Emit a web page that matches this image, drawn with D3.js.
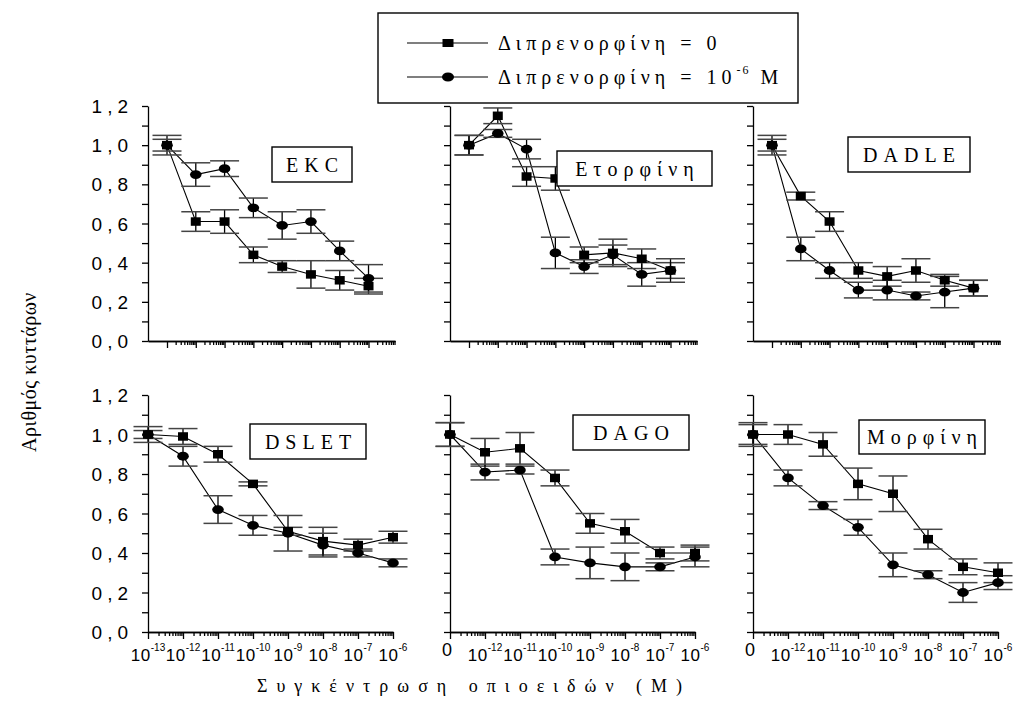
<!DOCTYPE html>
<html>
<head>
<meta charset="utf-8">
<script src="https://cdn.jsdelivr.net/npm/d3@7"></script>
<style>
  html, body { margin: 0; padding: 0; background: #fff; }
  svg { display: block; }
</style>
</head>
<body>
<svg id="chart" width="1020" height="712"></svg>
<script>
// Opioid concentrations (M); the first position holds the control (no opioid)
const concentrations = [1e-13, 1e-12, 1e-11, 1e-10, 1e-9, 1e-8, 1e-7, 1e-6];
const decadeExponents = [-13, -12, -11, -10, -9, -8, -7, -6];
const minorMultipliers = [2, 3, 4, 5, 6, 7, 8, 9];

const yTickValues = [0, 0.1, 0.2, 0.3, 0.4, 0.5, 0.6, 0.7, 0.8, 0.9, 1.0, 1.1, 1.2];
const yMajorValues = [0, 0.2, 0.4, 0.6, 0.8, 1.0, 1.2];
const yTickLabels = ["0,0", "0,2", "0,4", "0,6", "0,8", "1,0", "1,2"];

const panelNames = ["EKC", "Ετορφίνη", "DADLE", "DSLET", "DAGO", "Μορφίνη"];
const legendLabels = ["Διπρενορφίνη = 0", "Διπρενορφίνη = 10"];
const legendSuffix = ["", "-6"];
const legendUnit = ["", " M"];

const yAxisTitle = "Αριθμός κυττάρων";
const xAxisTitle = "Συγκέντρωση οπιοειδών (M)";

// Relative cell number, without buprenorphine (squares) and with 10^-6 M (circles)
const ekcControl      = [1.00, 0.61, 0.61, 0.44, 0.38, 0.34, 0.31, 0.28];
const ekcControlErr   = [0.05, 0.05, 0.06, 0.04, 0.03, 0.07, 0.05, 0.04];
const ekcBup          = [1.00, 0.85, 0.88, 0.68, 0.59, 0.61, 0.46, 0.32];
const ekcBupErr       = [0.03, 0.06, 0.04, 0.05, 0.07, 0.06, 0.05, 0.07];

const etorphineControl    = [1.00, 1.15, 0.84, 0.83, 0.44, 0.45, 0.42, 0.36];
const etorphineControlErr = [0.05, 0.04, 0.05, 0.06, 0.04, 0.07, 0.05, 0.04];
const etorphineBup        = [1.00, 1.06, 0.98, 0.45, 0.38, 0.44, 0.34, 0.36];
const etorphineBupErr     = [0.05, 0.02, 0.05, 0.08, 0.035, 0.05, 0.06, 0.06];

const dadleControl    = [1.00, 0.74, 0.61, 0.36, 0.33, 0.36, 0.31, 0.27];
const dadleControlErr = [0.05, 0.02, 0.05, 0.04, 0.05, 0.06, 0.03, 0.04];
const dadleBup        = [1.00, 0.47, 0.36, 0.26, 0.26, 0.23, 0.25, 0.27];
const dadleBupErr     = [0.03, 0.06, 0.04, 0.04, 0.05, 0.02, 0.08, 0.04];

const dsletControl    = [1.00, 0.99, 0.90, 0.75, 0.51, 0.46, 0.44, 0.48];
const dsletControlErr = [0.04, 0.04, 0.04, 0.01, 0.02, 0.07, 0.03, 0.03];
const dsletBup        = [1.00, 0.89, 0.62, 0.54, 0.50, 0.44, 0.40, 0.35];
const dsletBupErr     = [0.02, 0.05, 0.07, 0.05, 0.09, 0.06, 0.02, 0.02];

const dagoControl    = [1.00, 0.91, 0.93, 0.78, 0.55, 0.51, 0.40, 0.40];
const dagoControlErr = [0.06, 0.07, 0.08, 0.04, 0.05, 0.06, 0.03, 0.04];
const dagoBup        = [1.00, 0.81, 0.82, 0.38, 0.35, 0.33, 0.33, 0.38];
const dagoBupErr     = [0.06, 0.04, 0.02, 0.04, 0.08, 0.07, 0.02, 0.05];

const morphineControl    = [1.00, 1.00, 0.95, 0.75, 0.70, 0.47, 0.33, 0.30];
const morphineControlErr = [0.06, 0.05, 0.06, 0.08, 0.09, 0.05, 0.04, 0.05];
const morphineBup        = [1.00, 0.78, 0.64, 0.53, 0.34, 0.29, 0.20, 0.25];
const morphineBupErr     = [0.05, 0.04, 0.02, 0.04, 0.06, 0.02, 0.05, 0.035];

// ---- layout ----
const serif = "'Liberation Serif', 'Times New Roman', serif";
const sans = "'Liberation Sans', Arial, sans-serif";

const rows = [
  { yRange: [341, 106], xRanges: [[148, 395], [450, 697], [753, 1000]],
    xDomain: [Math.pow(10, -13.66), Math.pow(10, -5.08)], tickLabels: false },
  { yRange: [632, 395], xRanges: [[148, 393], [450, 695], [753, 998]],
    xDomain: [1e-13, 1e-6], tickLabels: true }
];

const panels = [
  { row: 0, col: 0, name: panelNames[0], a: ekcControl, aErr: ekcControlErr, b: ekcBup, bErr: ekcBupErr,
    box: [272, 147, 80, 35] },
  { row: 0, col: 1, name: panelNames[1], a: etorphineControl, aErr: etorphineControlErr, b: etorphineBup, bErr: etorphineBupErr,
    box: [557, 151, 155, 35] },
  { row: 0, col: 2, name: panelNames[2], a: dadleControl, aErr: dadleControlErr, b: dadleBup, bErr: dadleBupErr,
    box: [848, 137, 122, 35] },
  { row: 1, col: 0, name: panelNames[3], a: dsletControl, aErr: dsletControlErr, b: dsletBup, bErr: dsletBupErr,
    box: [250, 424, 116, 35] },
  { row: 1, col: 1, name: panelNames[4], a: dagoControl, aErr: dagoControlErr, b: dagoBup, bErr: dagoBupErr,
    box: [573, 415, 116, 35] },
  { row: 1, col: 2, name: panelNames[5], a: morphineControl, aErr: morphineControlErr, b: morphineBup, bErr: morphineBupErr,
    box: [859, 420, 126, 34] }
];

const svg = d3.select("#chart");

const majorX = decadeExponents.map(e => Math.pow(10, e));
const minorX = [];
decadeExponents.forEach(e => minorMultipliers.forEach(m => minorX.push(m * Math.pow(10, e))));

function drawSquare(g, cx, cy, w, h) {
  g.append("rect").attr("x", cx - w / 2).attr("y", cy - h / 2)
    .attr("width", w).attr("height", h).attr("fill", "#000");
}
function drawDot(g, cx, cy, rx, ry) {
  g.append("ellipse").attr("cx", cx).attr("cy", cy).attr("rx", rx).attr("ry", ry).attr("fill", "#000");
}

panels.forEach(p => {
  const row = rows[p.row];
  const xr = row.xRanges[p.col];
  const x = d3.scaleLog().domain(row.xDomain).range(xr);
  const y = d3.scaleLinear().domain([0, 1.2]).range(row.yRange);
  const g = svg.append("g");

  const inDomain = v => v >= 1e-13 * 0.999 && v <= row.xDomain[1];

  // y axis
  const yAxisG = g.append("g").attr("transform", `translate(${xr[0]},0)`)
    .call(d3.axisLeft(y).tickValues(yTickValues).tickSize(6).tickSizeOuter(0).tickFormat(""));
  // x axis: decades and minor log ticks
  const xAxisMajor = g.append("g").attr("transform", `translate(0,${y(0)})`)
    .call(d3.axisBottom(x).tickValues(majorX.filter(inDomain)).tickSize(7).tickSizeOuter(0).tickFormat(""));
  const xAxisMinor = g.append("g").attr("transform", `translate(0,${y(0)})`)
    .call(d3.axisBottom(x).tickValues(minorX.filter(inDomain)).tickSize(4).tickSizeOuter(0).tickFormat(""));
  [yAxisG, xAxisMajor, xAxisMinor].forEach(a => {
    a.selectAll("path, line").attr("stroke", "#000").attr("stroke-width", 1.3);
  });

  // y tick labels on the left column only
  if (p.col === 0) {
    yMajorValues.forEach((v, i) => {
      g.append("text").attr("x", xr[0] - 15).attr("y", y(v) + 7)
        .attr("text-anchor", "end").attr("font-family", sans).attr("font-size", 19)
        .attr("letter-spacing", 5).attr("fill", "#000").text(yTickLabels[i]);
    });
  }

  // x tick labels on the bottom row
  if (row.tickLabels) {
    decadeExponents.forEach((e, i) => {
      const cx = x(Math.pow(10, e));
      const baseY = y(0) + 29;
      if (i === 0 && p.col > 0) {
        g.append("text").attr("x", cx - 3).attr("y", baseY - 5).attr("text-anchor", "middle")
          .attr("font-family", sans).attr("font-size", 18).attr("fill", "#000").text("0");
        return;
      }
      const t = g.append("text").attr("x", cx).attr("y", baseY).attr("text-anchor", "middle")
        .attr("font-family", sans).attr("fill", "#000");
      t.append("tspan").attr("font-size", 17).attr("letter-spacing", 0.5).text("10");
      t.append("tspan").attr("font-size", 10).attr("dy", -10).text(String(e));
    });
  }

  const line = d3.line().x(d => x(d.c)).y(d => y(d.v));
  const series = [
    { vals: p.a, errs: p.aErr, marker: "square" },
    { vals: p.b, errs: p.bErr, marker: "dot" }
  ].map(s => ({ ...s, pts: s.vals.map((v, i) => ({ c: concentrations[i], v, e: s.errs[i] })) }));

  // connecting lines
  series.forEach(s => {
    g.append("path").datum(s.pts).attr("d", line)
      .attr("fill", "none").attr("stroke", "#000").attr("stroke-width", 1.1);
  });
  // error bars
  series.forEach(s => {
    s.pts.forEach(d => {
      const cx = x(d.c);
      g.append("line").attr("x1", cx).attr("x2", cx).attr("y1", y(d.v - d.e)).attr("y2", y(d.v + d.e))
        .attr("stroke", "#000").attr("stroke-width", 1.3);
      [d.v - d.e, d.v + d.e].forEach(cv => {
        g.append("line").attr("x1", cx - 14.5).attr("x2", cx + 14.5).attr("y1", y(cv)).attr("y2", y(cv))
          .attr("stroke", "#444").attr("stroke-width", 1.5);
      });
    });
  });
  // markers
  series.forEach(s => {
    s.pts.forEach(d => {
      if (s.marker === "square") drawSquare(g, x(d.c), y(d.v), 10, 8.5);
      else drawDot(g, x(d.c), y(d.v), 5.8, 4.4);
    });
  });

  // panel label box
  const [bx, by, bw, bh] = p.box;
  g.append("rect").attr("x", bx).attr("y", by).attr("width", bw).attr("height", bh)
    .attr("fill", "#fff").attr("stroke", "#000").attr("stroke-width", 1.4);
  g.append("text").attr("x", bx + bw / 2 + 3).attr("y", by + bh / 2 + 7)
    .attr("text-anchor", "middle").attr("font-family", serif).attr("font-size", 20)
    .attr("letter-spacing", 6).attr("fill", "#000").text(p.name);
});

// legend
const legend = svg.append("g");
legend.append("rect").attr("x", 378).attr("y", 13).attr("width", 420).attr("height", 90)
  .attr("fill", "#fff").attr("stroke", "#000").attr("stroke-width", 1.4);
[43, 77].forEach((ly, i) => {
  legend.append("line").attr("x1", 407).attr("x2", 488).attr("y1", ly).attr("y2", ly)
    .attr("stroke", "#000").attr("stroke-width", 1.1);
  if (i === 0) drawSquare(legend, 448, ly, 11, 8);
  else drawDot(legend, 448, ly, 6, 4.5);
  const t = legend.append("text").attr("x", 498).attr("y", ly + 7)
    .attr("font-family", serif).attr("font-size", 20).attr("letter-spacing", 5).attr("fill", "#000");
  t.append("tspan").text(legendLabels[i]);
  if (legendSuffix[i]) {
    t.append("tspan").attr("font-size", 12).attr("dy", -10).attr("letter-spacing", 2).text(legendSuffix[i]);
    t.append("tspan").attr("dy", 10).text(legendUnit[i]);
  }
});

// axis titles
svg.append("text").attr("transform", "translate(36,372) rotate(-90)")
  .attr("text-anchor", "middle").attr("font-family", serif).attr("font-size", 20)
  .attr("letter-spacing", 0.5).attr("fill", "#000").text(yAxisTitle);
svg.append("text").attr("x", 474).attr("y", 692)
  .attr("text-anchor", "middle").attr("font-family", serif).attr("font-size", 18)
  .attr("letter-spacing", 9).attr("fill", "#000").text(xAxisTitle);
</script>
</body>
</html>
